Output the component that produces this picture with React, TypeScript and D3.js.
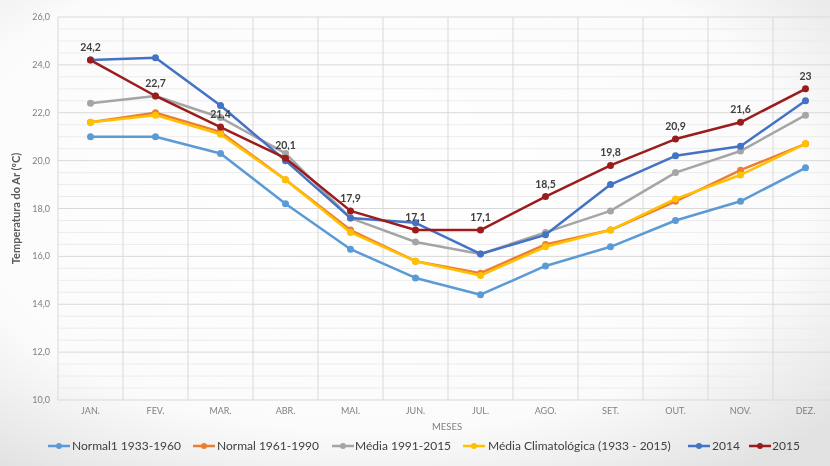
import React from "react";
import * as d3 from "d3";

const months = ["JAN.", "FEV.", "MAR.", "ABR.", "MAI.", "JUN.", "JUL.", "AGO.", "SET.", "OUT.", "NOV.", "DEZ."];
const yTicks = [10, 12, 14, 16, 18, 20, 22, 24, 26];

const normal1933 = [21.0, 21.0, 20.3, 18.2, 16.3, 15.1, 14.4, 15.6, 16.4, 17.5, 18.3, 19.7];
const normal1961 = [21.6, 22.0, 21.2, 19.2, 17.1, 15.8, 15.3, 16.5, 17.1, 18.3, 19.6, 20.7];
const media1991 = [22.4, 22.7, 21.8, 20.3, 17.6, 16.6, 16.1, 17.0, 17.9, 19.5, 20.4, 21.9];
const mediaClim = [21.6, 21.9, 21.1, 19.2, 17.0, 15.8, 15.2, 16.4, 17.1, 18.4, 19.4, 20.7];
const y2014 = [24.2, 24.3, 22.3, 20.0, 17.6, 17.4, 16.1, 16.9, 19.0, 20.2, 20.6, 22.5];
const y2015 = [24.2, 22.7, 21.4, 20.1, 17.9, 17.1, 17.1, 18.5, 19.8, 20.9, 21.6, 23.0];
const labels2015 = ["24,2", "22,7", "21,4", "20,1", "17,9", "17,1", "17,1", "18,5", "19,8", "20,9", "21,6", "23"];

const series = [
  { name: "Normal1 1933-1960", values: normal1933, color: "#5B9BD5" },
  { name: "Normal 1961-1990", values: normal1961, color: "#ED7D31" },
  { name: "Média 1991-2015", values: media1991, color: "#A5A5A5" },
  { name: "Média Climatológica (1933 - 2015)", values: mediaClim, color: "#FFC000" },
  { name: "2014", values: y2014, color: "#4472C4" },
  { name: "2015", values: y2015, color: "#9B1C1C" },
];

const W = 830, H = 466;
const left = 58, top = 17, bottom = 400;
const bandW = 65;
const right = left + bandW * months.length;

export default function App() {
  const x = d3.scaleBand<string>().domain(months).range([left, right]);
  const y = d3.scaleLinear().domain([10, 26]).range([bottom, top]);
  const cx = (i: number) => (x(months[i]) as number) + x.bandwidth() / 2;
  const line = d3.line<number>().x((_, i) => cx(i)).y((v) => y(v));
  const minor = d3.range(10, 26.01, 0.5).filter((v) => Math.abs(v % 2) > 0.01);
  const font = "Lato, 'Open Sans', sans-serif";

  const legendY = 446;
  const legendItems = [
    { x: 48, tx: 72 },
    { x: 193, tx: 217 },
    { x: 332, tx: 355 },
    { x: 463, tx: 488 },
    { x: 688, tx: 712 },
    { x: 749, tx: 772 },
  ];

  return (
    <div style={{ position: "fixed", left: 0, top: 0 }}>
      <svg width={W} height={H} style={{ display: "block" }}>
        <defs>
          <radialGradient id="bg" cx="45%" cy="40%" r="75%">
            <stop offset="0%" stopColor="#ffffff" />
            <stop offset="70%" stopColor="#fbfbfb" />
            <stop offset="100%" stopColor="#e2e2e2" />
          </radialGradient>
        </defs>
        <rect width={W} height={H} fill="url(#bg)" />
        {minor.map((v) => (
          <line key={"m" + v} x1={left} x2={right} y1={y(v)} y2={y(v)} stroke="#ececec" strokeWidth={1} />
        ))}
        {yTicks.map((v) => (
          <line key={"g" + v} x1={left} x2={right} y1={y(v)} y2={y(v)} stroke="#d9d9d9" strokeWidth={1} />
        ))}
        {d3.range(months.length + 1).map((i) => (
          <line key={"v" + i} x1={left + i * bandW} x2={left + i * bandW} y1={top} y2={bottom} stroke="#d9d9d9" strokeWidth={1} />
        ))}
        {yTicks.map((v) => (
          <text key={"t" + v} x={50} y={y(v) + 3} textAnchor="end" fontSize={9} fill="#808080" fontFamily={font}>
            {d3.format(".1f")(v).replace(".", ",")}
          </text>
        ))}
        {months.map((m, i) => (
          <text key={m} x={cx(i)} y={414} textAnchor="middle" fontSize={9} fill="#808080" fontFamily={font}>
            {m}
          </text>
        ))}
        <text x={447} y={430} textAnchor="middle" fontSize={9.5} fill="#808080" fontFamily={font}>MESES</text>
        <text
          transform={`translate(20,${(top + bottom) / 2}) rotate(-90)`}
          textAnchor="middle"
          fontSize={11}
          fontWeight="bold"
          fill="#595959"
          fontFamily={font}
        >
          Temperatura do Ar (ºC)
        </text>
        {series.map((s) => (
          <g key={s.name}>
            <path d={line(s.values) || ""} fill="none" stroke={s.color} strokeWidth={2.5} strokeLinejoin="round" />
            {s.values.map((v, i) => (
              <circle key={i} cx={cx(i)} cy={y(v)} r={3.5} fill={s.color} />
            ))}
          </g>
        ))}
        {y2015.map((v, i) => (
          <text key={"l" + i} x={cx(i)} y={y(v) - 9} textAnchor="middle" fontSize={10.5} fontWeight="bold" fill="#404040" fontFamily={font}>
            {labels2015[i]}
          </text>
        ))}
        {series.map((s, i) => (
          <g key={"lg" + s.name}>
            <line x1={legendItems[i].x} x2={legendItems[i].x + 22} y1={legendY} y2={legendY} stroke={s.color} strokeWidth={2.5} />
            <circle cx={legendItems[i].x + 11} cy={legendY} r={3} fill={s.color} />
            <text x={legendItems[i].tx} y={legendY + 4} fontSize={12} fill="#404040" fontFamily={font}>
              {s.name}
            </text>
          </g>
        ))}
      </svg>
    </div>
  );
}
